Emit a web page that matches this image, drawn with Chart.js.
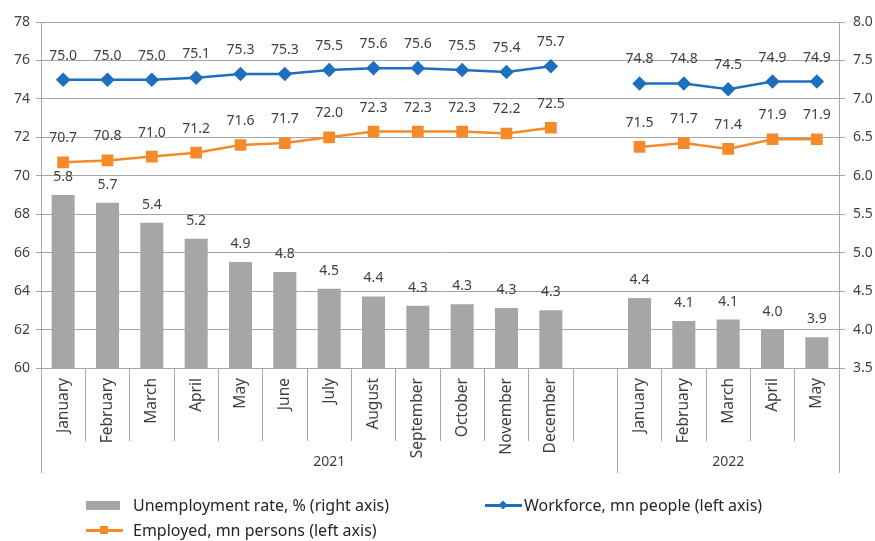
<!DOCTYPE html>
<html>
<head>
<meta charset="utf-8">
<script src="https://cdn.jsdelivr.net/npm/chart.js@4.4.1/dist/chart.umd.min.js"></script>
<style>
    body { margin: 0; background: #fff; }
    #wrap { position: relative; width: 875px; height: 541px; }
    #chart-canvas { position: absolute; left: 0; top: 0; }
    .legend { position: absolute; font: 16px "Noto Sans", sans-serif; color: #262626; display: flex; align-items: center; white-space: nowrap; }
    .sw { position: relative; width: 37px; height: 14px; margin-right: 10px; }
    .bar { position: absolute; left: 0; top: 3px; width: 34px; height: 9px; background: #a6a6a6; }
    .ln { position: absolute; left: 0; top: 6px; width: 37px; height: 2.5px; }
    .mk { position: absolute; left: 14px; top: 3px; width: 8px; height: 8px; }
</style>
</head>
<body>
<div id="wrap">
    <canvas id="chart-canvas" width="875" height="541"></canvas>
    <div class="legend" style="left:86px; top:494px;"><div class="sw"><div class="bar"></div></div>Unemployment rate, % (right axis)</div>
    <div class="legend" style="left:485px; top:494px;"><div class="sw" style="margin-right:2px;"><div class="ln" style="background:#1f6fbf"></div><div class="mk" style="background:#1f6fbf; transform:rotate(45deg) scale(0.8);"></div></div>Workforce, mn people (left axis)</div>
    <div class="legend" style="left:86px; top:519px;"><div class="sw"><div class="ln" style="background:#f58a2b"></div><div class="mk" style="background:#f58a2b;"></div></div>Employed, mn persons (left axis)</div>
</div>
<script>
const MONTHS_2021 = ["January", "February", "March", "April", "May", "June", "July", "August", "September", "October", "November", "December"];
const MONTHS_2022 = ["January", "February", "March", "April", "May"];
const LABELS = [...MONTHS_2021, "", ...MONTHS_2022];

const GROUP_NAMES  = ["2021", "2022"];
const GROUP_STARTS = [0, 13];

// unemployment rate, % (right axis)
const UNEMPLOYMENT = [5.75, 5.65, 5.39, 5.18, 4.88, 4.75, 4.53, 4.43, 4.31, 4.33, 4.28, 4.25, null, 4.41, 4.11, 4.13, 4.0, 3.9];
// workforce, mn people (left axis)
const WORKFORCE = [75.0, 75.0, 75.0, 75.1, 75.3, 75.3, 75.5, 75.6, 75.6, 75.5, 75.4, 75.7, null, 74.8, 74.8, 74.5, 74.9, 74.9];
// employed, mn persons (left axis)
const EMPLOYED = [70.7, 70.8, 71.0, 71.2, 71.6, 71.7, 72.0, 72.3, 72.3, 72.3, 72.2, 72.5, null, 71.5, 71.7, 71.4, 71.9, 71.9];

const FONT = "Noto Sans";
const GRID = "#a6a6a6";
const TEXT = "#404040";

// value labels above points and bars
const valueLabels = {
    id: "valueLabels",
    afterDatasetsDraw(chart) {
        const ctx = chart.ctx;
        ctx.save();
        ctx.font = `14px "${FONT}"`;
        ctx.fillStyle = TEXT;
        ctx.textAlign = "center";
        ctx.textBaseline = "middle";
        chart.data.datasets.forEach(function (ds, i) {
            const meta = chart.getDatasetMeta(i);
            const off = ds.type === "bar" ? 18 : 24;
            meta.data.forEach(function (el, j) {
                const v = ds.data[j];
                if (v === null) return;
                ctx.fillText(v.toFixed(1), el.x, el.y - off);
            });
        });
        ctx.restore();
    }
};

// year groups under the month labels
const yearGroups = {
    id: "yearGroups",
    afterDraw(chart) {
        const ctx = chart.ctx;
        const x = chart.scales.x;
        const edges = [x.left];
        for (let g = 1; g < GROUP_STARTS.length; g++) {
            const s = GROUP_STARTS[g];
            edges.push((x.getPixelForValue(s - 1) + x.getPixelForValue(s)) / 2);
        }
        edges.push(x.right);

        ctx.save();
        ctx.strokeStyle = GRID;
        ctx.lineWidth = 1;
        edges.forEach(function (e) {
            const px = Math.round(e) + 0.5;
            ctx.beginPath();
            ctx.moveTo(px, x.top);
            ctx.lineTo(px, x.bottom);
            ctx.stroke();
        });
        ctx.font = `14px "${FONT}"`;
        ctx.fillStyle = TEXT;
        ctx.textAlign = "center";
        ctx.textBaseline = "middle";
        GROUP_NAMES.forEach(function (name, g) {
            ctx.fillText(name, (edges[g] + edges[g + 1]) / 2, x.bottom - 11);
        });
        ctx.restore();
    }
};

const context = document.getElementById("chart-canvas").getContext("2d");

const chart = new Chart(context, {
    data: {
        labels: LABELS,
        datasets: [{
            type: "line",
            label: "Workforce, mn people (left axis)",
            data: WORKFORCE,
            yAxisID: "y",
            borderColor: "#1f6fbf",
            backgroundColor: "#1f6fbf",
            borderWidth: 2.5,
            pointStyle: "rectRot",
            pointRadius: 5.5,
            spanGaps: false,
            order: 0
        }, {
            type: "line",
            label: "Employed, mn persons (left axis)",
            data: EMPLOYED,
            yAxisID: "y",
            borderColor: "#f58a2b",
            backgroundColor: "#f58a2b",
            borderWidth: 2.5,
            pointStyle: "rect",
            pointRadius: 6.5,
            spanGaps: false,
            order: 1
        }, {
            type: "bar",
            label: "Unemployment rate, % (right axis)",
            data: UNEMPLOYMENT,
            yAxisID: "y1",
            backgroundColor: "#a6a6a6",
            barPercentage: 0.52,
            categoryPercentage: 1,
            order: 2
        }]
    },
    options: {
        responsive: false,
        animation: false,
        layout: { padding: { top: 22, left: 0, right: 0, bottom: 68 } },
        plugins: {
            legend: { display: false },
            tooltip: { enabled: false }
        },
        scales: {
            x: {
                offset: true,
                grid: { offset: true, drawOnChartArea: false, color: GRID, tickLength: 73 },
                border: { display: false },
                ticks: {
                    autoSkip: false, minRotation: 90, maxRotation: 90,
                    padding: -63, color: TEXT, font: { family: FONT, size: 15.5 }
                },
                afterFit(scale) { scale.height = 105; }
            },
            y: {
                position: "left",
                min: 60, max: 78,
                ticks: { stepSize: 2, color: TEXT, padding: 6, font: { family: FONT, size: 14 } },
                grid: { color: GRID, tickLength: 5 },
                border: { color: GRID },
                afterFit(scale) { scale.width = 41; }
            },
            y1: {
                position: "right",
                min: 3.5, max: 8.0,
                ticks: {
                    stepSize: 0.5, color: TEXT, padding: 8, font: { family: FONT, size: 14 },
                    callback: function (v) { return v.toFixed(1); }
                },
                grid: { drawOnChartArea: false, color: GRID, tickLength: 6 },
                border: { color: GRID },
                afterFit(scale) { scale.width = 36; }
            }
        }
    },
    plugins: [valueLabels, yearGroups]
});
</script>
</body>
</html>
